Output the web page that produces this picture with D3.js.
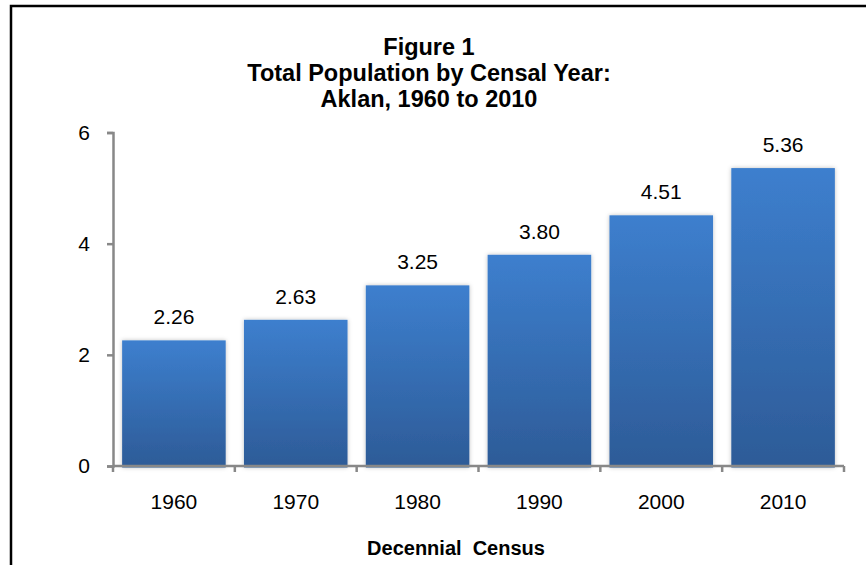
<!DOCTYPE html>
<html>
<head>
<meta charset="utf-8">
<script src="https://cdn.jsdelivr.net/npm/d3@7"></script>
<style>
  body { margin: 0; background: #fff; }
  text { font-family: "Liberation Sans", Arial, sans-serif; fill: #000; }
</style>
</head>
<body>
<div id="chart"></div>
<script>
// census years and population (in hundred thousands)
const years = ["1960", "1970", "1980", "1990", "2000", "2010"];
const population = [2.26, 2.63, 3.25, 3.80, 4.51, 5.36];
const yTicks = [0, 2, 4, 6];
const titleLines = ["Figure 1", "Total Population by Censal Year:", "Aklan, 1960 to 2010"];
const xTitle = "Decennial  Census";

const width = 866, height = 565;
const margin = { top: 132.5, right: 22, bottom: 99, left: 113 };

const svg = d3.select("#chart").append("svg")
	.attr("width", width)
	.attr("height", height);

const defs = svg.append("defs");

const grad = defs.append("linearGradient")
	.attr("id", "barGrad")
	.attr("x1", 0).attr("y1", 0)
	.attr("x2", 0).attr("y2", 1);
grad.append("stop").attr("offset", "0%").attr("stop-color", "#3d7fce");
grad.append("stop").attr("offset", "100%").attr("stop-color", "#2d5b97");

const shadow = defs.append("filter")
	.attr("id", "barShadow")
	.attr("x", "-10%").attr("y", "-10%")
	.attr("width", "120%").attr("height", "120%");
shadow.append("feDropShadow")
	.attr("dx", 0).attr("dy", 0)
	.attr("stdDeviation", 2)
	.attr("flood-color", "#000")
	.attr("flood-opacity", 0.25);

// outer frame (runs off the right and bottom edge)
svg.append("rect")
	.attr("x", 11).attr("y", 6)
	.attr("width", 900).attr("height", 600)
	.attr("fill", "none")
	.attr("stroke", "#000")
	.attr("stroke-width", 2.5);

const x = d3.scaleBand()
	.domain(years)
	.range([margin.left, width - margin.right])
	.paddingInner(0.15)
	.paddingOuter(0.075);

const y = d3.scaleLinear()
	.domain([0, 6])
	.range([height - margin.bottom, margin.top]);

// title
svg.append("text")
	.attr("text-anchor", "middle")
	.attr("font-weight", "bold")
	.attr("font-size", "23.5px")
	.selectAll("tspan")
	.data(titleLines)
	.enter()
	.append("tspan")
	.attr("x", 429)
	.attr("y", (d, i) => 55 + i * 26)
	.text(d => d);

// bars
svg.append("g")
	.selectAll("rect")
	.data(population)
	.enter()
	.append("rect")
	.attr("x", (d, i) => x(years[i]))
	.attr("width", x.bandwidth())
	.attr("y", d => y(d))
	.attr("height", d => y(0) - y(d) + 1.5)
	.attr("fill", "url(#barGrad)")
	.attr("filter", "url(#barShadow)");

// value labels
svg.append("g")
	.selectAll("text")
	.data(population)
	.enter()
	.append("text")
	.attr("x", (d, i) => x(years[i]) + x.bandwidth() / 2)
	.attr("y", d => y(d) - 16)
	.attr("text-anchor", "middle")
	.attr("font-size", "21px")
	.text(d => d.toFixed(2));

// y axis
const yAxis = d3.axisLeft(y)
	.tickValues(yTicks)
	.tickSize(6)
	.tickPadding(17)
	.tickFormat(d3.format("d"));

const yG = svg.append("g")
	.attr("transform", `translate(${margin.left},0)`)
	.call(yAxis);

// x axis: ticks on category boundaries
const xEdge = d3.scaleLinear()
	.domain([0, years.length])
	.range([margin.left, width - margin.right]);

const xG = svg.append("g")
	.attr("transform", `translate(0,${y(0)})`);

xG.append("line")
	.attr("x1", margin.left).attr("x2", width - margin.right)
	.attr("y1", 0).attr("y2", 0);

xG.selectAll(".tick-mark")
	.data(d3.range(years.length + 1))
	.enter()
	.append("line")
	.attr("class", "tick-mark")
	.attr("x1", d => xEdge(d)).attr("x2", d => xEdge(d))
	.attr("y1", 0).attr("y2", 6);

xG.selectAll("text")
	.data(years)
	.enter()
	.append("text")
	.attr("x", d => x(d) + x.bandwidth() / 2)
	.attr("y", 43)
	.attr("text-anchor", "middle")
	.attr("font-size", "21px")
	.text(d => d);

xG.selectAll("line").attr("stroke", "#888").attr("stroke-width", 2.5);

yG.select(".domain").attr("stroke", "#888").attr("stroke-width", 2.5);
yG.selectAll(".tick line").attr("stroke", "#888").attr("stroke-width", 2.5);
yG.selectAll(".tick text")
	.attr("font-size", "21px")
	.attr("fill", "#000")
	.attr("font-family", "Liberation Sans, Arial, sans-serif");

// x axis title
svg.append("text")
	.attr("x", 456)
	.attr("y", 555)
	.attr("text-anchor", "middle")
	.attr("font-weight", "bold")
	.attr("font-size", "20px")
	.attr("xml:space", "preserve")
	.style("white-space", "pre")
	.text(xTitle);
</script>
</body>
</html>
